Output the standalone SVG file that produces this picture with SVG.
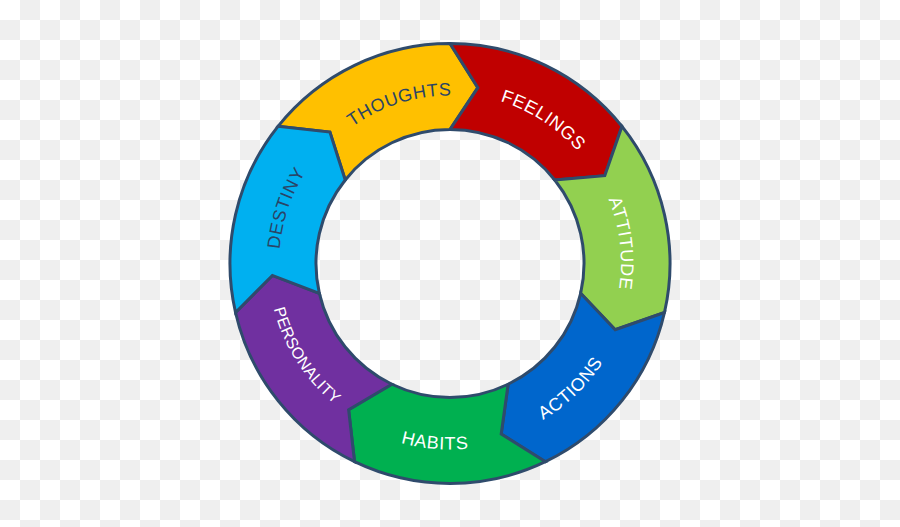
<svg xmlns="http://www.w3.org/2000/svg" width="900" height="527" viewBox="0 0 900 527">
<style>
.seg{stroke:#2f4b6c;stroke-width:3;stroke-linejoin:miter}
.lbl{font-family:"Liberation Sans",Arial,sans-serif;font-size:18px;letter-spacing:0.6px}
.light{fill:#ffffff}
.dark{fill:#2a4466}
</style>
<defs>
<pattern id="checker" patternUnits="userSpaceOnUse" width="40" height="40">
<rect width="40" height="40" fill="#ffffff"/>
<rect x="20" y="0" width="20" height="20" fill="#efefef"/>
<rect x="0" y="20" width="20" height="20" fill="#efefef"/>
</pattern>
<path id="p-thoughts" d="M 285.98 227.14 A 168 168 0 0 1 563.50 139.64"/>
<path id="p-feelings" d="M 372.82 112.03 A 170 170 0 0 1 619.77 272.40"/>
<path id="p-attitude" d="M 517.64 106.45 A 171 171 0 0 1 552.19 400.60"/>
<path id="p-destiny" d="M 321.73 376.58 A 171 171 0 0 1 416.20 95.87"/>
<path id="p-actions" d="M 399.83 438.45 A 182 182 0 0 0 626.59 219.47"/>
<path id="p-habits" d="M 281.70 342.70 A 186 186 0 0 0 602.73 369.65"/>
<path id="p-personality" d="M 288.42 179.74 A 182 182 0 0 0 458.26 445.31"/>
</defs>
<rect width="900" height="527" fill="url(#checker)"/>
<g id="connectors"></g>
<g id="thoughts">
<path class="seg" fill="#ffc000" d="M 278.00 126.33 A 220 220 0 0 1 450 43.5 L 477.85 87.69 L 450 129.5 A 134 134 0 0 0 345.23 179.95 L 329.91 132.12 Z"/>
<text class="lbl dark"><textPath href="#p-thoughts" startOffset="50%" text-anchor="middle">THOUGHTS</textPath></text>
</g>
<g id="feelings">
<path class="seg" fill="#c00000" d="M 450 43.5 A 220 220 0 0 1 622.00 126.33 L 604.81 175.66 L 554.77 179.95 A 134 134 0 0 0 450 129.5 L 477.85 87.69 Z"/>
<text class="lbl light"><textPath href="#p-feelings" startOffset="50%" text-anchor="middle">FEELINGS</textPath></text>
</g>
<g id="attitude">
<path class="seg" fill="#92d050" d="M 622.00 126.33 A 220 220 0 0 1 664.48 312.46 L 615.21 329.77 L 580.64 293.32 A 134 134 0 0 0 554.77 179.95 L 604.81 175.66 Z"/>
<text class="lbl light"><textPath href="#p-attitude" startOffset="50%" text-anchor="middle">ATTITUDE</textPath></text>
</g>
<g id="actions">
<path class="seg" fill="#0066cc" d="M 664.48 312.46 A 220 220 0 0 1 545.45 461.71 L 501.19 433.98 L 508.14 384.23 A 134 134 0 0 0 580.64 293.32 L 615.21 329.77 Z"/>
<text class="lbl light"><textPath href="#p-actions" startOffset="50%" text-anchor="middle">ACTIONS</textPath></text>
</g>
<g id="habits">
<path class="seg" fill="#00b050" d="M 545.45 461.71 A 220 220 0 0 1 354.55 461.71 L 348.63 409.82 L 391.86 384.23 A 134 134 0 0 0 508.14 384.23 L 501.19 433.98 Z"/>
<text class="lbl light"><textPath href="#p-habits" startOffset="50%" text-anchor="middle">HABITS</textPath></text>
</g>
<g id="personality">
<path class="seg" fill="#7030a0" d="M 354.55 461.71 A 220 220 0 0 1 235.52 312.46 L 272.40 275.47 L 319.36 293.32 A 134 134 0 0 0 391.86 384.23 L 348.63 409.82 Z"/>
<text class="lbl light" style="font-size:16px;letter-spacing:0.3px"><textPath href="#p-personality" startOffset="50%" text-anchor="middle">PERSONALITY</textPath></text>
</g>
<g id="destiny">
<path class="seg" fill="#00b0f0" d="M 235.52 312.46 A 220 220 0 0 1 278.00 126.33 L 329.91 132.12 L 345.23 179.95 A 134 134 0 0 0 319.36 293.32 L 272.40 275.47 Z"/>
<text class="lbl dark"><textPath href="#p-destiny" startOffset="50%" text-anchor="middle">DESTINY</textPath></text>
</g>
</svg>
